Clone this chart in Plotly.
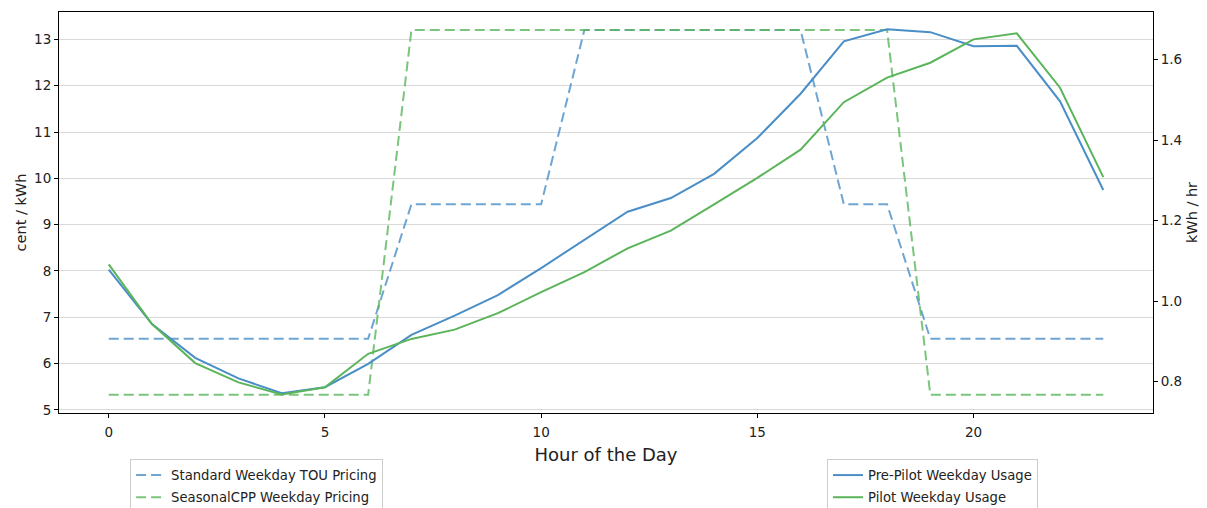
import plotly.graph_objects as go

hours = list(range(24))

standard_tou = [6.54, 6.54, 6.54, 6.54, 6.54, 6.54, 6.54,
                9.44, 9.44, 9.44, 9.44,
                13.2, 13.2, 13.2, 13.2, 13.2, 13.2,
                9.44, 9.44,
                6.54, 6.54, 6.54, 6.54, 6.54]
seasonal_cpp = [5.33, 5.33, 5.33, 5.33, 5.33, 5.33, 5.33,
                13.2, 13.2, 13.2, 13.2, 13.2, 13.2, 13.2, 13.2, 13.2, 13.2, 13.2, 13.2,
                5.33, 5.33, 5.33, 5.33, 5.33]
pre_pilot = [1.078, 0.943, 0.859, 0.808, 0.771, 0.786, 0.844, 0.916, 0.964, 1.015,
             1.082, 1.153, 1.222, 1.256, 1.316, 1.405, 1.515, 1.645, 1.675, 1.668,
             1.633, 1.634, 1.496, 1.276]
pilot = [1.091, 0.943, 0.846, 0.798, 0.768, 0.786, 0.869, 0.906, 0.929, 0.970,
         1.022, 1.072, 1.131, 1.175, 1.240, 1.306, 1.376, 1.494, 1.555, 1.592,
         1.650, 1.665, 1.530, 1.308]

x_ticks = [0, 5, 10, 15, 20]
left_ticks = [5, 6, 7, 8, 9, 10, 11, 12, 13]
right_ticks = [0.8, 1.0, 1.2, 1.4, 1.6]
right_labels = ["0.8", "1.0", "1.2", "1.4", "1.6"]

BLUE = "#4a8ec8"
GREEN = "#5ab55a"
BLUE_D = "rgba(74,142,200,0.8)"
GREEN_D = "rgba(90,181,90,0.8)"
FONT = "DejaVu Sans"

fig = go.Figure()
fig.add_trace(go.Scatter(x=hours, y=standard_tou, mode="lines", name="Standard Weekday TOU Pricing",
                         line=dict(color=BLUE_D, width=2, dash="10px,5px"), legend="legend",
                         legendgroup="a", yaxis="y"))
fig.add_trace(go.Scatter(x=hours, y=seasonal_cpp, mode="lines", name="SeasonalCPP Weekday Pricing",
                         line=dict(color=GREEN_D, width=2, dash="10px,5px"), legend="legend",
                         legendgroup="b", yaxis="y"))
fig.add_trace(go.Scatter(x=hours, y=pre_pilot, mode="lines", name="Pre-Pilot Weekday Usage",
                         line=dict(color=BLUE, width=2), legend="legend2", legendgroup="c", yaxis="y2"))
fig.add_trace(go.Scatter(x=hours, y=pilot, mode="lines", name="Pilot Weekday Usage",
                         line=dict(color=GREEN, width=2), legend="legend2", legendgroup="d", yaxis="y2"))

axis_common = dict(showline=True, linecolor="black", linewidth=1, ticks="outside", ticklen=4,
                   tickcolor="black", tickwidth=1, zeroline=False, automargin=False,
                   tickfont=dict(family=FONT, size=13.5, color="#222"))

fig.update_layout(
    width=1207, height=508,
    template="none",
    paper_bgcolor="white", plot_bgcolor="white",
    margin=dict(l=59, r=54, t=12, b=95, autoexpand=False),
    font=dict(family=FONT, color="#222"),
    xaxis=dict(range=[-1.15, 24.15], tickvals=x_ticks, mirror=True, showgrid=False, ticklabelstandoff=3,
               title=dict(text="Hour of the Day", font=dict(family=FONT, size=18, color="#222"), standoff=9),
               **axis_common),
    yaxis=dict(range=[4.935, 13.59], tickvals=left_ticks, showgrid=True, gridcolor="#d9d9d9", gridwidth=1,
               title=dict(text="cent / kWh", font=dict(family=FONT, size=14.5, color="#222"), standoff=4),
               **axis_common),
    yaxis2=dict(range=[0.722, 1.718], tickvals=right_ticks, ticktext=right_labels, overlaying="y", side="right",
                showgrid=False,
                title=dict(text="kWh / hr", font=dict(family=FONT, size=14.5, color="#222"), standoff=5),
                **axis_common),
    legend=dict(x=0.065, y=-0.1147, xanchor="left", yanchor="top", bgcolor="white", tracegroupgap=2,
                bordercolor="#cccccc", borderwidth=1, font=dict(family=FONT, size=13.2, color="#222")),
    legend2=dict(x=0.702, y=-0.1147, xanchor="left", yanchor="top", bgcolor="white", tracegroupgap=2,
                 bordercolor="#cccccc", borderwidth=1, font=dict(family=FONT, size=13.2, color="#222")),
    showlegend=True,
)

fig.write_html("out.html", config={"displayModeBar": False},
               post_script="document.body.style.margin='0';document.body.style.overflow='hidden';")
